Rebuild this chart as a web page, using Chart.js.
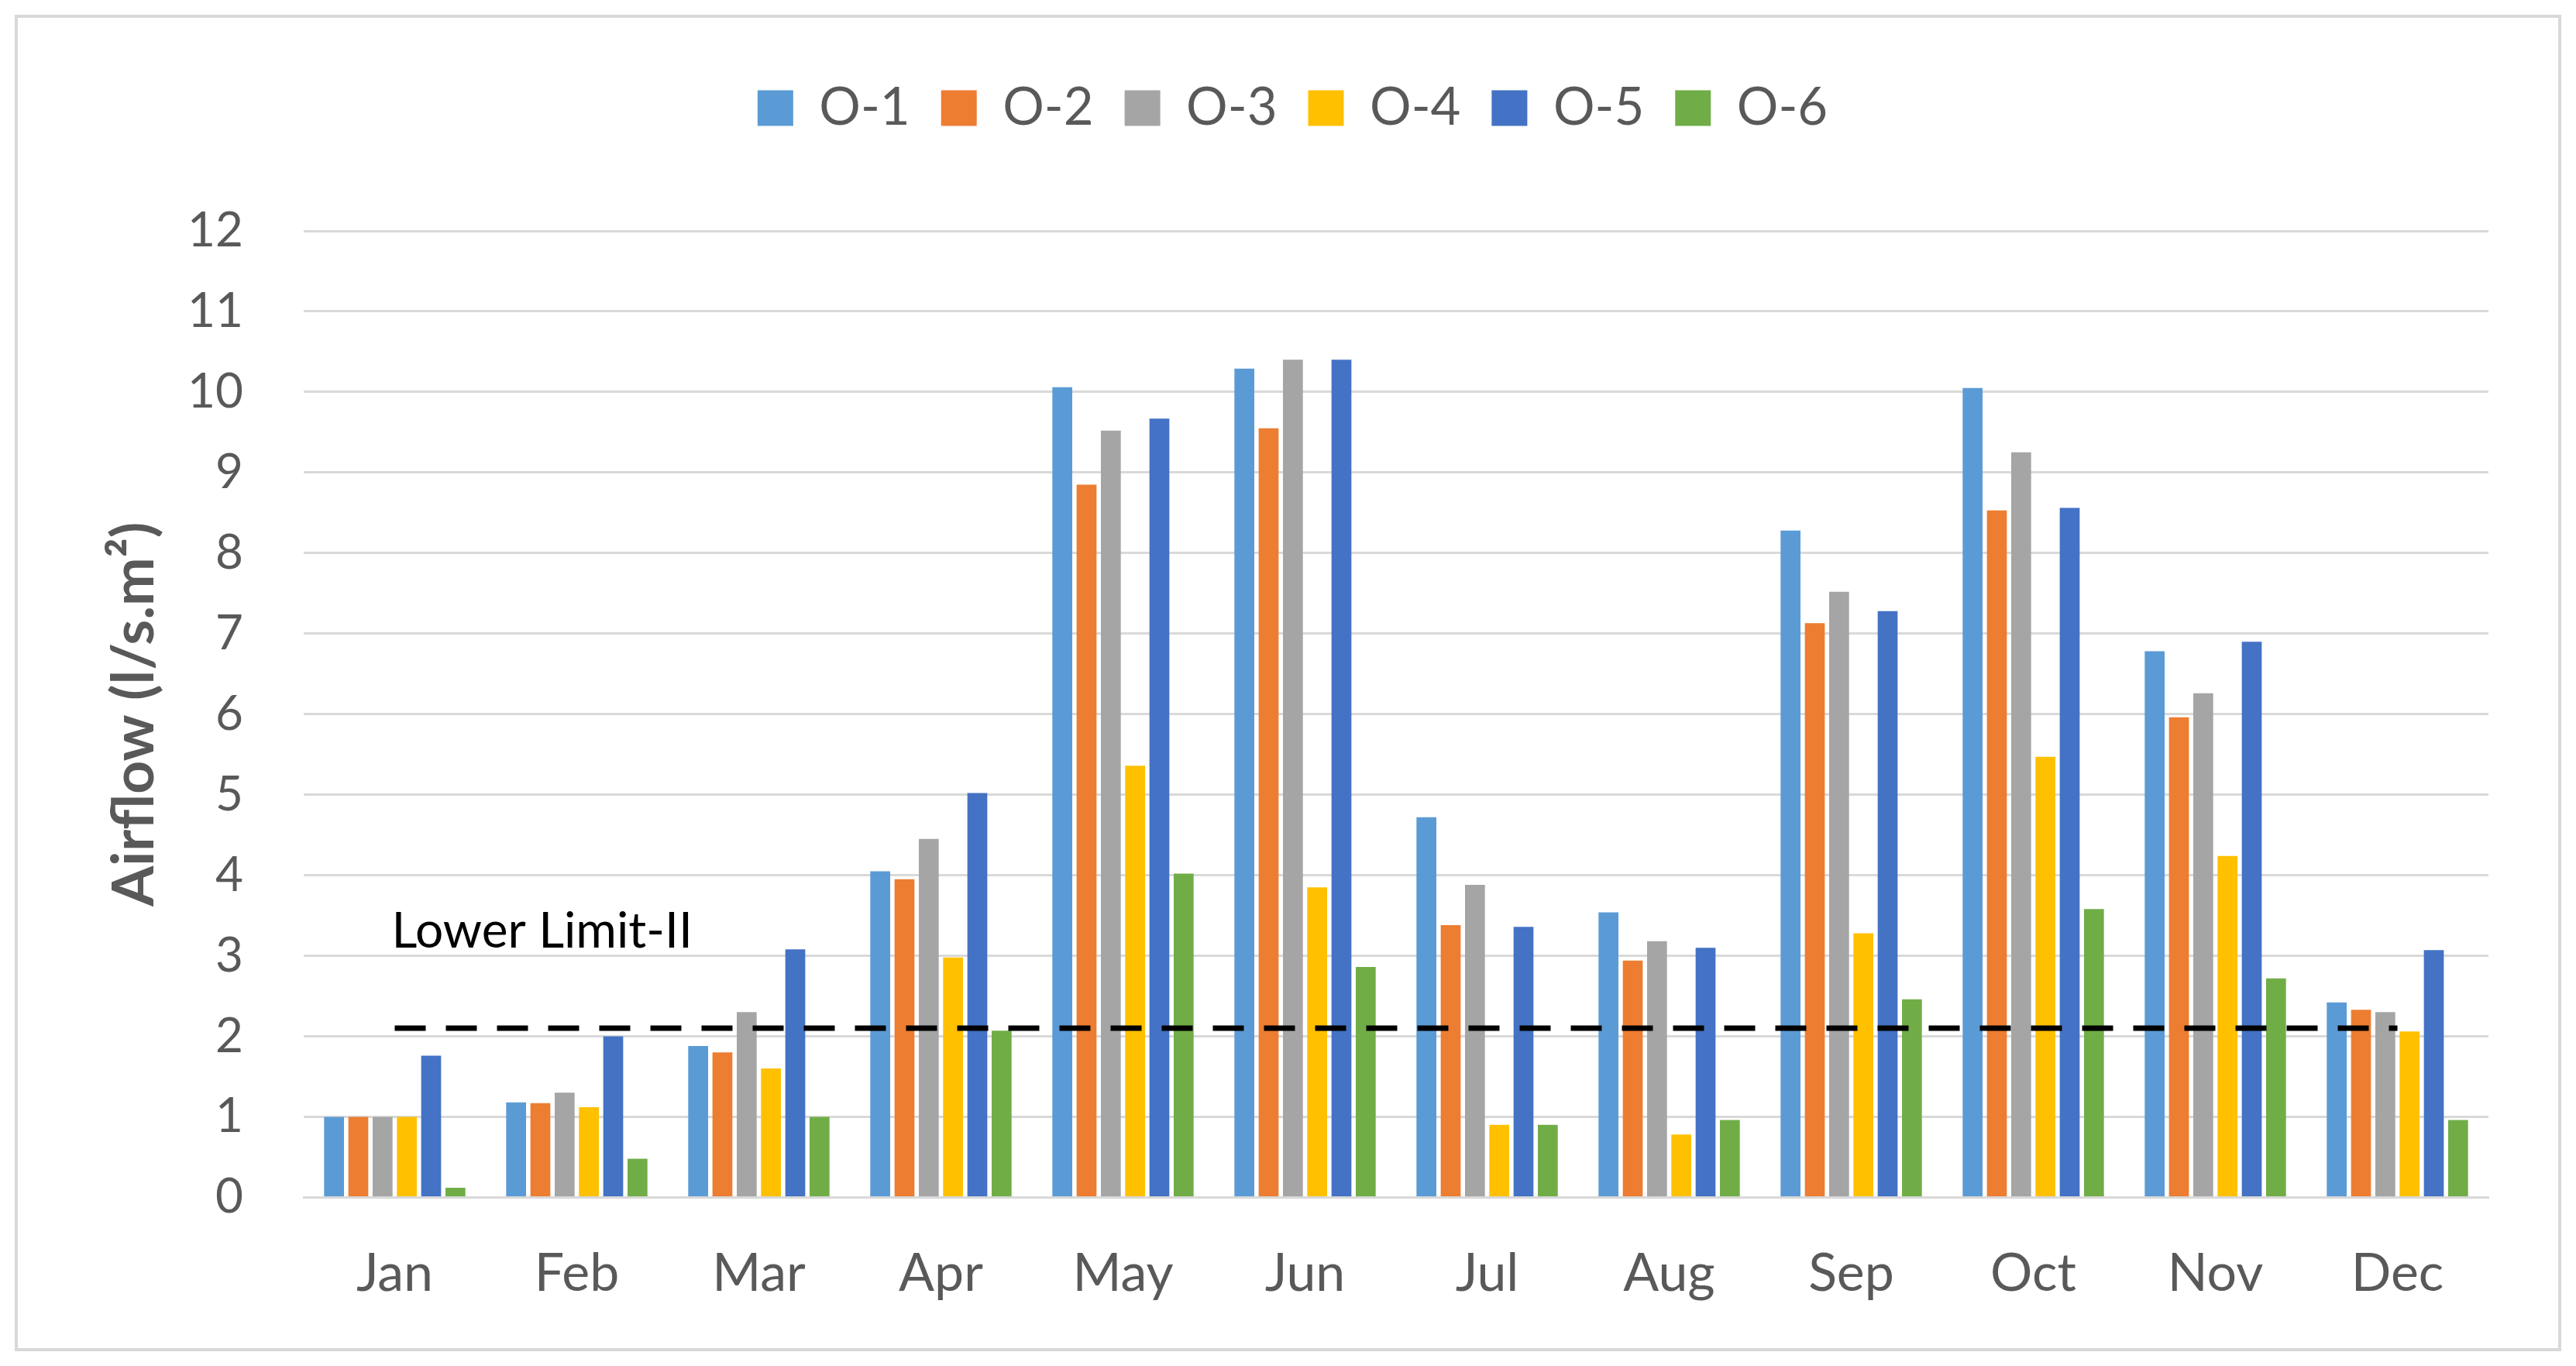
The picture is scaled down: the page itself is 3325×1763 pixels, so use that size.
<!DOCTYPE html>
<html>
<head>
<meta charset="utf-8">
<script src="https://cdn.jsdelivr.net/npm/chart.js@4/dist/chart.umd.min.js"></script>
<style>
	html, body { margin: 0; padding: 0; background: #ffffff; }
	#wrap { width: 3325px; height: 1763px; }
</style>
</head>
<body>
<div id="wrap"><canvas id="myChart" width="3325" height="1763"></canvas></div>
<script>
// data
const months = ['Jan', 'Feb', 'Mar', 'Apr', 'May', 'Jun', 'Jul', 'Aug', 'Sep', 'Oct', 'Nov', 'Dec'];
const o1 = [1.0, 1.18, 1.88, 4.05, 10.06, 10.29, 4.72, 3.54, 8.28, 10.05, 6.78, 2.42];
const o2 = [1.0, 1.17, 1.8, 3.95, 8.85, 9.55, 3.38, 2.94, 7.13, 8.53, 5.96, 2.33];
const o3 = [1.0, 1.3, 2.3, 4.45, 9.52, 10.4, 3.88, 3.18, 7.52, 9.25, 6.26, 2.3];
const o4 = [1.0, 1.12, 1.6, 2.98, 5.36, 3.85, 0.9, 0.78, 3.28, 5.47, 4.24, 2.06];
const o5 = [1.76, 2.0, 3.08, 5.02, 9.67, 10.4, 3.36, 3.1, 7.28, 8.56, 6.9, 3.07];
const o6 = [0.12, 0.48, 1.0, 2.07, 4.02, 2.86, 0.9, 0.96, 2.46, 3.58, 2.72, 0.96];
const lowerLimit = [2.1, 2.1, 2.1, 2.1, 2.1, 2.1, 2.1, 2.1, 2.1, 2.1, 2.1, 2.1];
const limitLabel = 'Lower Limit-II';
const limitLabelAt = { category: 0, value: 3.3 };
const yTicks = [0, 12];

const seriesNames = ['O-1', 'O-2', 'O-3', 'O-4', 'O-5', 'O-6'];
const seriesColors = ['#5b9bd5', '#ed7d31', '#a5a5a5', '#ffc000', '#4472c4', '#70ad47'];
const seriesData = [o1, o2, o3, o4, o5, o6];

const textGray = '#595959';
const fontFamily = 'Lato, "Open Sans", sans-serif';

// white background + outer frame
const frame = {
	id: 'frame',
	beforeDraw(chart){
		const ctx = chart.ctx;
		ctx.save();
		ctx.fillStyle = '#ffffff';
		ctx.fillRect(0, 0, chart.width, chart.height);
		ctx.strokeStyle = '#d9d9d9';
		ctx.lineWidth = 4;
		ctx.strokeRect(21, 21, chart.width - 42, chart.height - 42);
		ctx.restore();
	}
};

// the "Lower Limit-II" text, placed through the scales
const limitText = {
	id: 'limitText',
	afterDatasetsDraw(chart){
		const ctx = chart.ctx,
			x = chart.scales.x.getPixelForValue(limitLabelAt.category),
			y = chart.scales.y.getPixelForValue(limitLabelAt.value);
		ctx.save();
		ctx.font = '64px ' + fontFamily;
		ctx.fillStyle = '#000000';
		ctx.textAlign = 'left';
		ctx.textBaseline = 'middle';
		ctx.fillText(limitLabel, x - 4, y);
		ctx.restore();
	}
};

// extra room under the legend
const legendGap = {
	id: 'legendGap',
	beforeInit(chart){
		const fit = chart.legend.fit;
		chart.legend.fit = function(){
			fit.bind(chart.legend)();
			this.height += 115;
		};
	}
};

function getDatasets(){
	let sets = [{
		type: 'line',
		label: 'Lower Limit-II',
		data: lowerLimit,
		borderColor: '#000000',
		borderWidth: 7,
		borderDash: [40, 26],
		pointRadius: 0,
		fill: false,
		order: 0
	}];
	seriesNames.forEach((name, i)=>{
		sets.push({
			type: 'bar',
			label: name,
			data: seriesData[i],
			backgroundColor: seriesColors[i],
			borderWidth: 0,
			categoryPercentage: 0.8,
			barPercentage: 0.82,
			order: 1
		});
	});
	return sets;
}

const ctx = document.getElementById('myChart');
const myChart = new Chart(ctx, {
	type: 'bar',
	data: { labels: months, datasets: getDatasets() },
	options: {
		responsive: false,
		devicePixelRatio: 1,
		animation: false,
		layout: { padding: { top: 66, left: 125, right: 113, bottom: 20 } },
		plugins: {
			legend: {
				position: 'top',
				align: 'center',
				labels: {
					filter: item => item.text !== 'Lower Limit-II',
					boxWidth: 46,
					boxHeight: 46,
					padding: 40,
					color: textGray,
					font: { family: fontFamily, size: 67 }
				}
			},
			tooltip: { enabled: false }
		},
		scales: {
			x: {
				grid: { display: false, drawTicks: false },
				border: { display: true, color: '#d9d9d9', width: 3 },
				ticks: { color: textGray, padding: 58, font: { family: fontFamily, size: 68 } }
			},
			y: {
				min: yTicks[0],
				max: yTicks[1],
				afterFit: scale => { scale.width = 267; },
				ticks: { stepSize: 1, color: textGray, padding: 78, font: { family: fontFamily, size: 62 } },
				grid: { color: '#d9d9d9', lineWidth: 3, drawTicks: false },
				border: { display: false },
				title: {
					display: true,
					text: 'Airflow (l/s.m²)',
					color: textGray,
					font: { family: fontFamily, size: 75, weight: 'bold' },
					padding: { top: 4, bottom: 4 }
				}
			}
		}
	},
	plugins: [frame, limitText, legendGap]
});
</script>
</body>
</html>
